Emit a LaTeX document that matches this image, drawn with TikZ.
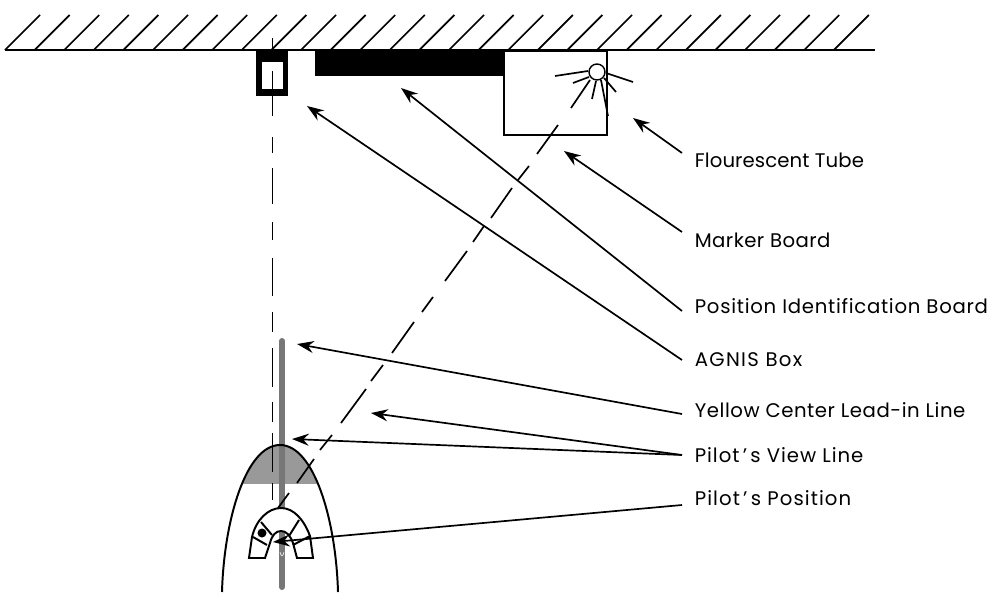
\documentclass[tikz,border=0pt]{standalone}
\usepackage{fontspec}
\setmainfont{Poppins}
\usetikzlibrary{arrows.meta}
\definecolor{capgray}{HTML}{999999}
\definecolor{linegray}{HTML}{777777}

\begin{document}
\begin{tikzpicture}[x=0.025cm, y=-0.025cm, line width=1.2pt,
    >={Stealth[length=0.42cm, width=0.3cm, inset=0.14cm]},
    labeltext/.style={anchor=west, inner xsep=0.3cm, inner ysep=0pt,
      font=\fontsize{14}{16}\selectfont\addfontfeature{LetterSpace=#1}},
    hullline/.style={line width=1.4pt}]
    \useasboundingbox (0,0) rectangle (999,592);
    % ceiling
    \foreach \xx in {0,...,28}{%
      \draw (5+29.6*\xx,50) -- (40+29.6*\xx,15);}
    \draw (5,50) -- (875,50);
    % boards on the ceiling
    \fill (315,50) rectangle (505,76);
    \draw[fill=white] (504,51) rectangle (607,135);
    % AGNIS box
    \fill (256,50) rectangle (288,96);
    \fill[white] (262,62) rectangle (283,89);
    % flourescent tube
    \draw[line width=1pt] (597,72) circle (8);
    \draw (588,71) -- (555,76);
    \draw (589,77) -- (573,83);
    \draw (590,80) -- (571,108);
    \draw (596,81) -- (592,99);
    \draw (601,80) -- (608,116);
    \draw (604,78) -- (616,92);
    \draw (606,73) -- (633,82);
    % aircraft nose
    \begin{scope}
      \clip (222,592) .. controls (224,520) and (246,445) .. (280,445)
        .. controls (314,445) and (336,520) .. (338,592);
      \fill[capgray] (215,440) rectangle (345,484);
    \end{scope}
    \draw[linegray, line width=4.3pt, line cap=round] (282,341) -- (282,587);
    \draw[hullline] (222,592) .. controls (224,520) and (246,445) .. (280,445)
      .. controls (314,445) and (336,520) .. (338,592);
    % pilot's seat
    \draw[hullline, fill=white] (249,558) -- (252,537) .. controls (256,520) and (268,508) .. (281,508)
      .. controls (294,508) and (304,520) .. (310,536) -- (313,558) -- (297,558) -- (293,543)
      .. controls (290,535) and (286,531) .. (281,531)
      .. controls (276,531) and (272,535) .. (270,543) -- (265,558) -- cycle;
    \draw[hullline] (261,522) -- (272,535);
    \draw[hullline] (253,537) -- (267,545);
    \draw[hullline] (299,520) -- (289,536);
    \draw[hullline] (310,536) -- (293,545);
    \fill (262,533) circle (4.5);
    \draw[white, line width=0.4pt] (280,552) .. controls (281,557) and (283,557) .. (284,552);
    % sight lines
    \foreach \ya/\yb in {38/50,71/116,137/153,168/204,222/240,258/296,312/332,348/387,402/422,433/472,483/500}{%
      \draw (272.5,\ya) -- (272.5,\yb);}
    \foreach \xa/\ya/\xb/\yb in {558/125/537/154,529/166/518/180,512/188/491/218,484/226/473/242,467/251/445/281,433/297/422/312,414/322/392/353,383/365/371/381,366/389/341/423,332/435/320/450,314/459/297/483,289/493/278/508}{%
      \draw (\xa,\ya) -- (\xb,\yb);}
    % labels
    \node[labeltext=0.5] (lblTube) at (682,160) {Flourescent Tube};
    \node[labeltext=2.2] (lblMarker) at (682,240) {Marker Board};
    \node[labeltext=3.7] (lblPosition) at (682,306) {Position Identification Board};
    \node[labeltext=6.7] (lblAgnis) at (682,360) {AGNIS Box};
    \node[labeltext=2.8] (lblYellow) at (682,410) {Yellow Center Lead-in Line};
    \node[labeltext=4.8] (lblView) at (682,455) {Pilot\,'\,s View Line};
    \node[labeltext=5.4] (lblPilot) at (682,498) {Pilot\,'\,s Position};
    % pointers
    \coordinate (tipTube) at (633,118);
    \coordinate (tipMarker) at (564,151);
    \coordinate (tipPosition) at (401,88);
    \coordinate (tipAgnis) at (307,106);
    \coordinate (tipYellow) at (297,344);
    \coordinate (tipGround) at (371,413);
    \coordinate (tipNose) at (292,439);
    \coordinate (tipPilot) at (273,542);
    \draw[->] ([yshift=0.175cm]lblTube.west) -- (tipTube);
    \draw[->] ([yshift=0.2cm]lblMarker.west) -- (tipMarker);
    \draw[->] ([yshift=-0.125cm]lblPosition.west) -- (tipPosition);
    \draw[->] (lblAgnis.west) -- (tipAgnis);
    \draw[->] ([yshift=-0.1cm]lblYellow.west) -- (tipYellow);
    \draw[->] (lblView.west) -- (tipGround);
    \draw[->] (lblView.west) -- (tipNose);
    \draw[->] ([yshift=-0.175cm]lblPilot.west) -- (tipPilot);
  \end{tikzpicture}
\end{document}
